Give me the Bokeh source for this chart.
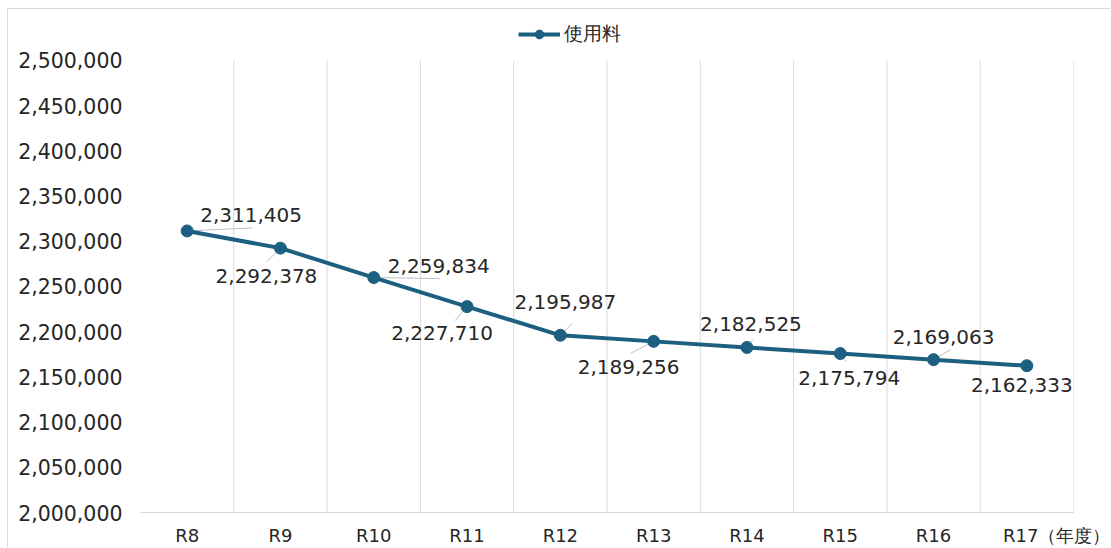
from bokeh.plotting import figure
from bokeh.models import (ColumnDataSource, FixedTicker, NumeralTickFormatter,
                          Range1d, Legend, LegendItem)
from bokeh.embed import file_html
from bokeh.resources import INLINE
from bokeh.core.properties import value

# ---- data ----
categories = ["R8", "R9", "R10", "R11", "R12", "R13", "R14", "R15", "R16", "R17"]
usage_fee = [2311405, 2292378, 2259834, 2227710, 2195987,
             2189256, 2182525, 2175794, 2169063, 2162333]
series_name = "使用料"
unit_label = "（年度）"
y_ticks = list(range(2000000, 2500001, 50000))

# ---- styles ----
FONT = "DejaVu Sans"
LINE_COLOR = "#1d5f80"
GRID_COLOR = "#d9d9d9"
TEXT_COLOR = "#262626"

# label offsets (px, screen: +x right, +y down)
lbl_dx = [64, -14, 65, -25, 5, -25, 4, 9, 10, -5]
lbl_dy = [-16, 28, -12, 26, -33, 26, -23, 24, -23, 19]
# leader line end offsets (px)
ldr_dx = [65, -14, 66, -12, 12, -23, 6, 6, 17, -3]
ldr_dy = [-3, 14, 1, 14, -12, 12, -8, 8, -10, 6]

W, H = 1103, 539
ML, MR, MT, MB = 132, 38, 0, 35
PLOT_H = 453          # height of the value area (2.0M..2.5M)
HEADROOM = 51         # space above the value area for the legend
frame_w = W - ML - MR

n = len(categories)
xs = list(range(n))
y0, y1 = y_ticks[0], y_ticks[-1]
px_x = n / frame_w
px_y = (y1 - y0) / PLOT_H

p = figure(width=W, height=H, output_backend="svg", toolbar_location=None,
           x_range=Range1d(-0.5, n - 0.5),
           y_range=Range1d(y0, y1 + HEADROOM * px_y),
           min_border_left=ML, min_border_right=MR, min_border_top=MT,
           min_border_bottom=MB)
p.outline_line_color = None
p.background_fill_color = "white"
p.border_fill_color = "white"
p.styles = {"margin-left": "7px", "margin-top": "8px",
            "border-top": "1px solid #d9d9d9", "border-left": "1px solid #d9d9d9"}

# axes
labels = {i: c for i, c in enumerate(categories)}
# last label carries the unit; balanced with ideographic spaces so "R17" stays centred
labels[n - 1] = "\u3000" * 4 + categories[-1] + unit_label
p.xaxis.ticker = FixedTicker(ticks=xs)
p.xaxis.major_label_overrides = labels
p.xaxis.major_tick_line_color = None
p.xaxis.minor_tick_line_color = None
p.xaxis.axis_line_color = GRID_COLOR
p.xaxis.axis_line_width = 1
p.xaxis.major_label_text_font = FONT
p.xaxis.major_label_text_font_size = "18px"
p.xaxis.major_label_text_color = TEXT_COLOR
p.xaxis.major_label_standoff = 6

p.yaxis.ticker = FixedTicker(ticks=y_ticks)
p.yaxis.formatter = NumeralTickFormatter(format="0,0")
p.yaxis.major_tick_line_color = None
p.yaxis.minor_tick_line_color = None
p.yaxis.axis_line_color = None
p.yaxis.major_label_text_font = FONT
p.yaxis.major_label_text_font_size = "20.5px"
p.yaxis.major_label_text_color = TEXT_COLOR
p.yaxis.major_label_standoff = 12

# grids: vertical lines at category boundaries, only over the value area
p.ygrid.grid_line_color = None
p.xgrid.grid_line_color = None
bounds = [i + 0.5 for i in xs]
p.segment(x0=bounds, y0=[y0] * n, x1=bounds, y1=[y1] * n,
          line_color=GRID_COLOR, line_width=1)

# leader lines (pixel offsets converted to data units)
p.segment(x0=xs, y0=usage_fee,
          x1=[x + dx * px_x for x, dx in zip(xs, ldr_dx)],
          y1=[v - dy * px_y for v, dy in zip(usage_fee, ldr_dy)],
          line_color="#bfbfbf", line_width=1)

src = ColumnDataSource(dict(x=xs, y=usage_fee,
                            lbl=[f"{v:,}" for v in usage_fee],
                            dx=lbl_dx, dy=lbl_dy))
line_r = p.line("x", "y", source=src, line_color=LINE_COLOR, line_width=4)
pt_r = p.scatter("x", "y", source=src, size=12, fill_color=LINE_COLOR,
                 line_color=LINE_COLOR)

p.text("x", "y", text="lbl", source=src, x_offset="dx", y_offset="dy",
       text_align="center", text_baseline="middle",
       text_font=value(FONT), text_font_size="20px", text_color=TEXT_COLOR)

legend = Legend(items=[LegendItem(label=series_name, renderers=[line_r, pt_r])],
                location=(378, PLOT_H + 12), orientation="horizontal",
                glyph_width=42, glyph_height=22, label_text_font=FONT,
                label_text_font_size="19px", label_text_color=TEXT_COLOR,
                border_line_color=None, background_fill_alpha=0,
                padding=0, margin=0, label_standoff=4)
p.add_layout(legend, "center")

open("out.html", "w").write(file_html(p, INLINE))
